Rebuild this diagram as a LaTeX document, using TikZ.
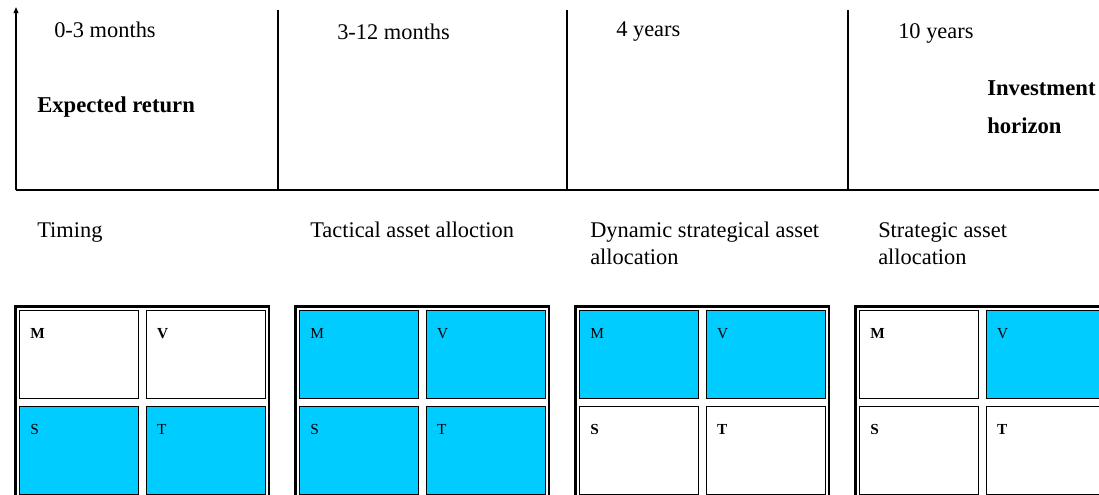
\documentclass[tikz,border=0pt]{standalone}
\usepackage{fontspec}
\setmainfont{Liberation Serif}
\usetikzlibrary{positioning,arrows.meta,fit}
\definecolor{hzcyan}{RGB}{0,204,255}
\tikzset{
  axis/.style={draw=black,line width=1.1pt},
  cell/.style={draw=black,line width=0.9pt,rectangle,text width=73pt,align=left,
               inner xsep=8pt,inner ysep=0pt,text height=21pt,text depth=45pt},
  on/.style ={cell,fill=hzcyan,font=\fontsize{11.5}{13}\selectfont},
  off/.style={cell,fill=white,font=\fontsize{11.5}{13}\selectfont\bfseries},
  frame/.style={draw=black,line width=1.6pt,inner sep=2.6pt},
  span/.style={anchor=base west,inner sep=0pt,font=\fontsize{16.8}{20}\selectfont},
  axlbl/.style={anchor=base west,inner sep=0pt,align=left,font=\fontsize{17}{28.5}\selectfont\bfseries},
  strat/.style={anchor=base west,inner sep=0pt,align=left,font=\fontsize{16.8}{20.25}\selectfont},
}

\begin{document}
\begin{tikzpicture}[x=0.75pt,y=-0.75pt,node distance=5.25pt and 5.25pt]
  \useasboundingbox (0,0) rectangle (1099,494);
  \clip (0,0) rectangle (1099,494);

  % ===== horizon axis =====
  \coordinate (o)    at (16,190);
  \coordinate (ytop) at (16,7);
  \coordinate (xend) at (1099,190);
  \coordinate (d1t) at (278,10);  \coordinate (d1b) at (278,190);
  \coordinate (d2t) at (567,10);  \coordinate (d2b) at (567,190);
  \coordinate (d3t) at (848,10);  \coordinate (d3b) at (848,190);
  \draw[axis,-{Triangle[length=4.5pt,width=3.5pt]}] (o) -- (ytop);
  \draw[axis] (o) -- (xend);
  \draw[axis] (d1t) -- (d1b); \draw[axis] (d2t) -- (d2b); \draw[axis] (d3t) -- (d3b);

  \node[span] (h1) at (54,37)  {0-3 months};
  \node[span] (h2) at (337,39) {3-12 months};
  \node[span] (h3) at (616,36) {4 years};
  \node[span] (h4) at (898,38) {10 years};
  \node[axlbl] (ret) at (37,112) {Expected return};
  % two-line nodes sit on the baseline of their last line
  \node[axlbl] (hor) at (987,133) {Investment\\horizon};

  % ===== allocation styles =====
  \node[strat] (sTim) at (37,237)  {Timing};
  \node[strat] (sTac) at (310,237) {Tactical asset alloction};
  \node[strat] (sDyn) at (590,264) {Dynamic strategical asset\\allocation};
  \node[strat] (sStr) at (878,264) {Strategic asset\\allocation};

  % ===== M/V/S/T grids =====
  \node[off,anchor=north west] (tM) at (19,310) {M};
  \node[off,right=of tM] (tV) {V};
  \node[on,below=of tM]  (tS) {S};
  \node[on,right=of tS]  (tT) {T};
  \node[frame,fit=(tM)(tV)(tS)(tT)] (tBox) {};

  \node[on,anchor=north west] (aM) at (299,310) {M};
  \node[on,right=of aM]  (aV) {V};
  \node[on,below=of aM]  (aS) {S};
  \node[on,right=of aS]  (aT) {T};
  \node[frame,fit=(aM)(aV)(aS)(aT)] (aBox) {};

  \node[on,anchor=north west] (dM) at (579,310) {M};
  \node[on,right=of dM]  (dV) {V};
  \node[off,below=of dM] (dS) {S};
  \node[off,right=of dS] (dT) {T};
  \node[frame,fit=(dM)(dV)(dS)(dT)] (dBox) {};

  \node[off,anchor=north west] (gM) at (859,310) {M};
  \node[on,right=of gM]  (gV) {V};
  \node[off,below=of gM] (gS) {S};
  \node[off,right=of gS] (gT) {T};
  \node[frame,fit=(gM)(gV)(gS)(gT)] (gBox) {};
\end{tikzpicture}
\end{document}
